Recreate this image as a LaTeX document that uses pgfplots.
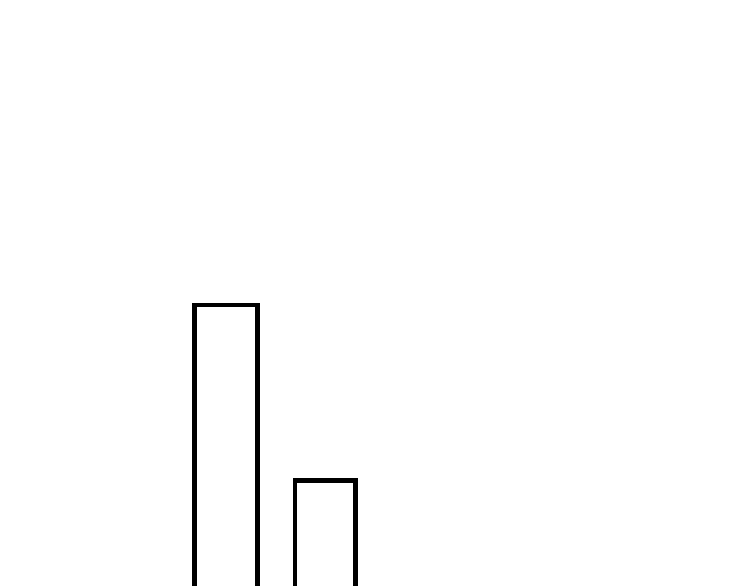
\documentclass[border=0pt]{standalone}
\usepackage{pgfplots}
\pgfplotsset{compat=1.18}
\begin{document}
\begin{tikzpicture}
  % fixed page 7.5cm x 5.86cm; bars run past the bottom edge and are cut there
  \path[use as bounding box] (0,0) rectangle (7.5cm,5.86cm);
  \clip (0,0) rectangle (7.5cm,5.86cm);
  % one axis unit = one pixel; y = pixels above the bottom edge + 10
  \begin{axis}[
    at={(0,-0.2cm)}, anchor=south west,
    scale only axis,
    width=7.5cm, height=6.06cm,
    hide axis,
    xmin=0, xmax=750,
    ymin=-10, ymax=596,
    ybar,
    bar shift=0pt,
  ]
  % --- tall bar ---
  \addplot[draw=black, fill=none, line width=1.3pt, bar width=63]
    coordinates {(225.8,291)};
  % --- short bar ---
  \addplot[draw=black, fill=none, line width=1.3pt, bar width=60.3]
    coordinates {(325.2,115.3)};
  \end{axis}
\end{tikzpicture}
\end{document}
